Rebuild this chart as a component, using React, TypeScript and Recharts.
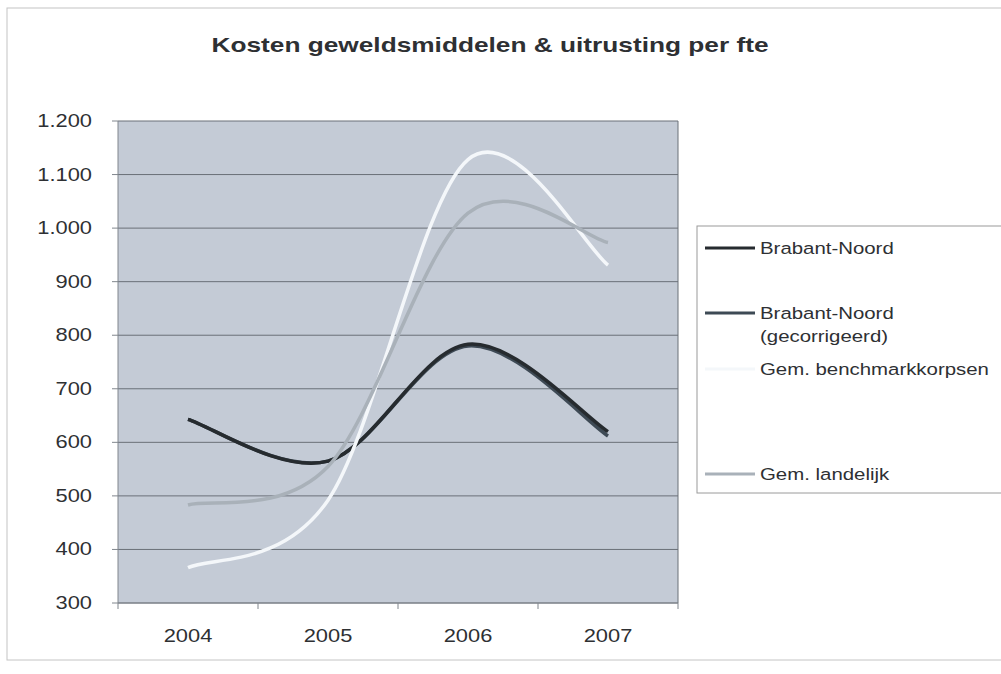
import { CartesianGrid, Line, LineChart, XAxis, YAxis } from "recharts";

const YEARS = ["2004", "2005", "2006", "2007"];
const BRABANT_NOORD = [643, 565, 783, 620];
const BRABANT_NOORD_GECORR = [643, 565, 780, 612];
const BENCHMARK = [366, 492, 1128, 931];
const LANDELIJK = [483, 555, 1028, 973];
const Y_TICKS = [300, 400, 500, 600, 700, 800, 900, 1000, 1100, 1200];

const SERIES = [
  { key: "gecorr", name: ["Brabant-Noord", "(gecorrigeerd)"], color: "#3e4a55" },
  { key: "bn", name: ["Brabant-Noord"], color: "#262b2f" },
  { key: "bench", name: ["Gem. benchmarkkorpsen"], color: "#f4f7fa" },
  { key: "land", name: ["Gem. landelijk"], color: "#a9b1b9" },
];
const LEGEND_ORDER = ["bn", "gecorr", "bench", "land"];
const LEGEND_ROWS = [248, 313, 369, 474];

const FONT = "'Liberation Sans', Arial, sans-serif";
const STRETCH = 1.25; // picture is wider than tall
const TEXT = "#2e3033";

const data = YEARS.map((year, i) => ({
  x: i,
  year,
  bn: BRABANT_NOORD[i],
  gecorr: BRABANT_NOORD_GECORR[i],
  bench: BENCHMARK[i],
  land: LANDELIJK[i],
}));

// Excel style smoothed line (catmull-rom, ends duplicated)
const excelSmooth = (context: any) => {
  let pts: [number, number][] = [];
  return {
    areaStart() {},
    areaEnd() {},
    lineStart() {
      pts = [];
    },
    point(x: number, y: number) {
      pts.push([+x, +y]);
    },
    lineEnd() {
      const n = pts.length;
      if (!n) return;
      context.moveTo(pts[0][0], pts[0][1]);
      for (let i = 0; i < n - 1; i++) {
        const p0 = pts[i === 0 ? 0 : i - 1];
        const p1 = pts[i];
        const p2 = pts[i + 1];
        const p3 = pts[i + 2 < n ? i + 2 : n - 1];
        context.bezierCurveTo(
          p1[0] + (p2[0] - p0[0]) / 6,
          p1[1] + (p2[1] - p0[1]) / 6,
          p2[0] - (p3[0] - p1[0]) / 6,
          p2[1] - (p3[1] - p1[1]) / 6,
          p2[0],
          p2[1]
        );
      }
    },
  };
};

function SText({ x, y, anchor = "start", size = 17.5, bold = false, stretch = STRETCH, children }: any) {
  return (
    <text
      transform={`translate(${x},${y}) scale(${stretch},1)`}
      textAnchor={anchor}
      fontFamily={FONT}
      fontSize={size}
      fontWeight={bold ? "bold" : "normal"}
      fill={TEXT}
    >
      {children}
    </text>
  );
}

const fmt = (v: number) => v.toLocaleString("nl-NL");

function YTick({ x, y, payload }: any) {
  return (
    <SText x={x} y={y + 6} anchor="end">
      {fmt(payload.value)}
    </SText>
  );
}

function XTick({ x, y, payload }: any) {
  const v = payload.value;
  if (!Number.isInteger(v)) {
    return <line x1={x} x2={x} y1={y - 6} y2={y} stroke="#80868d" />;
  }
  return (
    <SText x={x} y={y + 33} anchor="middle">
      {YEARS[v]}
    </SText>
  );
}

export default function App() {
  return (
    <div style={{ position: "absolute", left: 0, top: 0, width: 1001, height: 674, background: "#fff" }}>
      <svg width={1001} height={674} style={{ position: "absolute", left: 0, top: 0 }}>
        <rect x={7} y={8} width={1010} height={652} fill="#fff" stroke="#c4c4c4" />
        <SText x={490} y={52} anchor="middle" size={21} bold>
          Kosten geweldsmiddelen &amp; uitrusting per fte
        </SText>
        <rect x={697} y={226} width={320} height={267} fill="#fff" stroke="#9a9a9a" />
        {LEGEND_ORDER.map((k, i) => {
          const s = SERIES.find((d) => d.key === k)!;
          const cy = LEGEND_ROWS[i];
          return (
            <g key={k}>
              <line x1={705} x2={755} y1={cy} y2={cy} stroke={s.color} strokeWidth={3} />
              {s.name.map((t, j) => (
                <SText key={t} x={760} y={cy + 6 + j * 23} size={17} stretch={1.2}>
                  {t}
                </SText>
              ))}
            </g>
          );
        })}
      </svg>
      <div style={{ position: "absolute", left: 0, top: 0 }}>
        <LineChart
          width={1001}
          height={674}
          data={data}
          margin={{ top: 121, right: 323, bottom: 21, left: 0 }}
        >
          <CartesianGrid
            fill="#c4cbd6"
            stroke="#6a7078"
            verticalCoordinatesGenerator={({ offset }: any) => [offset.left + offset.width]}
          />
          <XAxis
            dataKey="x"
            type="number"
            domain={[-0.5, 3.5]}
            ticks={[-0.5, 0, 0.5, 1, 1.5, 2, 2.5, 3, 3.5]}
            interval={0}
            height={50}
            tickLine={false}
            tickSize={6}
            tickMargin={0}
            axisLine={{ stroke: "#80868d" }}
            tick={(p: any) => <XTick {...p} />}
          />
          <YAxis
            domain={[300, 1200]}
            ticks={Y_TICKS}
            interval={0}
            width={118}
            tickSize={6}
            tickMargin={20}
            axisLine={{ stroke: "#80868d" }}
            tickLine={{ stroke: "#80868d" }}
            tick={(p: any) => <YTick {...p} />}
          />
          {SERIES.map((s) => (
            <Line
              key={s.key}
              dataKey={s.key}
              type={excelSmooth as any}
              stroke={s.color}
              strokeWidth={3.5}
              dot={false}
              activeDot={false}
              isAnimationActive={false}
            />
          ))}
        </LineChart>
      </div>
    </div>
  );
}
